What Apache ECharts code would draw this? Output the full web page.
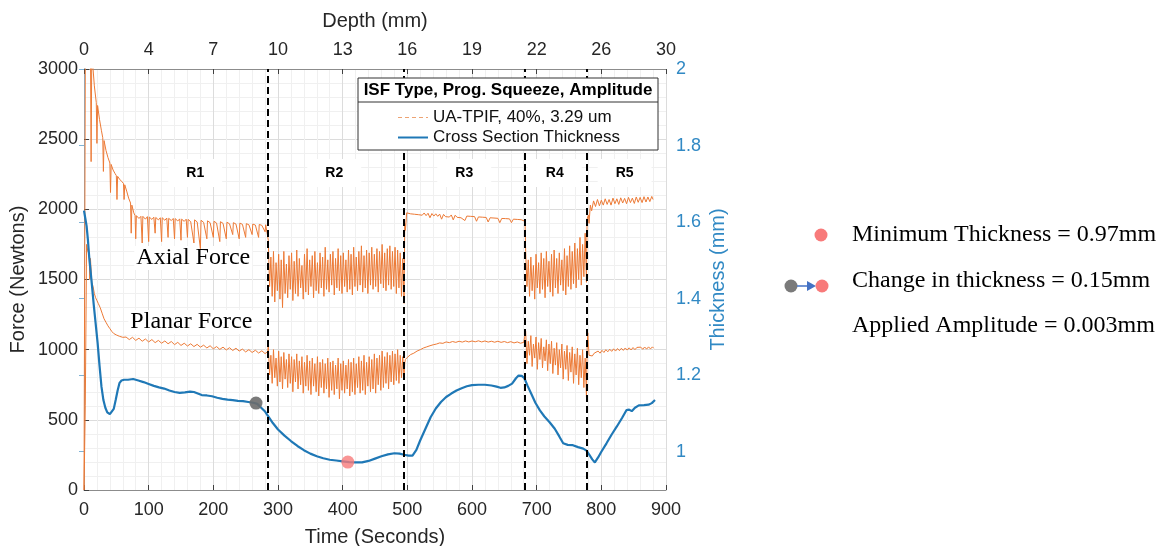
<!DOCTYPE html>
<html>
<head>
<meta charset="utf-8">
<script src="https://cdn.jsdelivr.net/npm/echarts@6/dist/echarts.min.js"></script>
<style>html,body{margin:0;padding:0;background:#fff;}#c{width:1170px;height:546px;}</style>
</head>
<body>
<div id="c"></div>
<script>
// ---------- data ----------
const depthLabels = ['0','4','7','10','13','16','19','22','26','30'];
const regionBounds = [284, 495, 682, 778];
const regionNames = ['R1','R2','R3','R4','R5'];
const regionLabelTimes = [172, 387, 588, 728, 836];
const regionLabelForce = 2259;
const forceLabelNames = ['Axial Force','Planar Force'];
const forceLabelPos = [[169, 1653], [166, 1197]];
const legendTitle = 'ISF Type, Prog. Squeeze, Amplitude';
const forceName = 'UA-TPIF, 40%, 3.29 um';
const thickName = 'Cross Section Thickness';

// Axial force, region 1 (time s, force N)
const axialR1 = [[0,0],[1,1500],[2,3000],[3,3200],[6,3250],[10,3150],[11,2340],[12,3100],[14,3000],[16,2880],[19,2760],[20,2470],[21,2740],[24,2640],[27,2560],[29,2510],[30,2270],[31,2490],[34,2420],[37,2370],[40,2330],[41,2120],[42,2320],[45,2280],[48,2255],[50,2240],[51,2070],[52,2235],[55,2215],[58,2200],[61,2185],[62,2070],[63,2175],[66,2130],[69,2080],[72,2045],[73,1830],[74,2030],[77,1975],[79,1955],
[80,1790],[81,1955],[85,1935],[88,1950],[90,1760],[91,1950],[95,1930],[98,1948],[100,1770],[101,1945],[105,1928],[108,1944],[110,1830],[111,1942],[115,1925],[118,1940],[120,1770],[121,1940],[125,1922],[128,1938],[130,1800],[131,1936],[135,1920],[138,1935],[140,1790],[141,1934],[145,1917],[148,1932],[150,1780],[151,1930],[155,1914],[158,1930],[160,1800],[161,1928],[165,1912],[168,1926],[170,1760],[171,1925],[175,1910],[178,1924],[180,1720],[181,1922],[185,1907],[188,1920],[190,1790],[191,1918],[195,1905],[198,1916],[200,1800],[201,1915],[205,1902],[208,1913],[210,1770],[211,1912],[215,1900],[218,1910],[220,1790],[221,1908],[225,1897],[228,1906],[230,1820],[231,1905],[235,1895],[238,1903],[240,1790],[241,1902],[245,1893],[248,1900],[250,1800],[251,1898],[255,1890],[258,1897],[260,1820],[261,1895],[265,1888],[268,1894],[270,1800],[271,1892],[275,1886],[278,1891],[280,1840],[281,1890],[284,1885]];
// Axial force, region 2 (sampled every 2 s from 285 s)
const axialR2 = [1780,1450,1660,1380,1700,1340,1620,1420,1680,1360,1640,1300,1700,1400,1610,1370,1670,1430,1690,1350,
1630,1400,1710,1380,1650,1440,1600,1360,1680,1410,1720,1390,1640,1450,1670,1370,1700,1420,1620,1400,
1690,1440,1660,1380,1730,1430,1640,1410,1680,1460,1700,1390,1650,1440,1720,1420,1670,1400,1690,1450,
1640,1410,1710,1430,1680,1390,1730,1450,1660,1420,1700,1460,1740,1410,1670,1440,1710,1400,1690,1460,
1730,1430,1680,1450,1720,1410,1700,1470,1750,1440,1690,1420,1720,1460,1740,1430,1700,1450,1730,1400,
1710,1440,1690,1380,1650,1330];
const axialR3 = [[496,1900],[497,1850],[499,1975],[502,1985],[505,1968],[508,1982],[511,1965],[514,1978],[517,1962],[520,1976],[523,1958],[526,1974],[529,1955],[532,1972],[535,1940],[538,1970],[541,1952],[544,1968],[547,1950],[550,1966],[553,1930],[556,1964],[559,1948],[562,1962],[565,1945],[568,1960],[571,1925],[574,1958],[577,1943],[580,1956],[583,1940],[586,1954],[589,1920],[592,1952],[595,1938],[598,1950],[601,1936],[604,1948],[607,1915],[610,1946],[613,1934],[616,1944],[619,1932],[622,1942],[625,1910],[628,1940],[631,1930],[634,1938],[637,1928],[640,1936],[643,1905],[646,1935],[649,1926],[652,1934],[655,1924],[658,1932],[661,1905],[664,1930],[667,1922],[670,1928],[673,1920],[676,1926],[679,1918],[682,1915]];
// Axial force, region 4 (sampled every 2 s from 683 s)
const axialR4 = [1700,1450,1640,1380,1660,1420,1600,1360,1680,1440,1620,1400,1690,1430,1650,1370,1700,1450,1630,1410,
1680,1380,1710,1440,1650,1400,1690,1460,1640,1420,1720,1390,1670,1450,1740,1430,1700,1470,1760,1440,
1720,1500,1800,1460,1750,1520,1830,1480];
const axialR5 = [[778,1930],[780,1960],[781,1900],[783,2030],[785,1990],[788,2060],[791,2020],[794,2070],[797,2025],[800,2065],[803,2030],[806,2075],[809,2035],[812,2070],[815,2030],[818,2080],[821,2040],[824,2075],[827,2035],[830,2082],[833,2045],[836,2078],[839,2040],[842,2085],[845,2048],[848,2080],[851,2042],[854,2088],[857,2050],[860,2085],[863,2048],[866,2090],[869,2052],[872,2088],[875,2055],[878,2092],[880,2070]];

// Planar force
const planarR1 = [[0,0],[2,600],[4,1750],[6,1700],[8,1680],[9,1500],[10,1650],[12,1480],[14,1450],[16,1400],[18,1370],[20,1350],[22,1330],[25,1300],[28,1260],[31,1220],[34,1195],[37,1170],[40,1150],[43,1130],[46,1115],[50,1105],[55,1095],[60,1088],
[65,1090],[70,1072],[75,1088],[80,1066],[85,1082],[90,1060],[95,1076],[100,1055],[105,1072],[110,1050],[115,1066],[120,1046],[125,1062],[130,1042],[135,1058],[140,1036],[145,1052],[150,1030],[155,1046],[160,1026],[165,1042],[170,1022],[175,1038],[180,1018],[185,1032],[190,1012],[195,1028],[200,1006],[205,1022],[210,1002],[215,1018],[220,998],[225,1014],[230,994],[235,1010],[240,990],[245,1004],[250,984],[255,1000],[260,980],[265,996],[270,976],[275,992],[280,972],[284,985]];
const planarR2 = [1030,820,960,760,1000,800,940,740,990,770,950,720,980,790,930,730,970,760,950,700,
930,770,970,720,920,750,950,690,910,740,960,710,920,680,940,740,900,700,950,670,
910,730,930,690,900,720,940,660,910,710,920,680,890,720,940,650,900,710,920,690,
890,720,930,670,910,700,940,680,900,730,950,690,920,710,960,680,910,740,950,700,
930,720,970,690,940,750,960,710,990,730,950,760,980,720,960,770,990,750,970,780,
1000,760,960,800,950,790];
const planarR3 = [[496,905],[497,930],[500,945],[505,965],[510,975],[515,990],[520,1000],[525,1012],[530,1020],[535,1028],[540,1035],[545,1040],[550,1048],[555,1045],[560,1055],[565,1050],[570,1058],[575,1052],[580,1060],[585,1054],[590,1062],[595,1055],[600,1062],[605,1056],[610,1063],[615,1055],[620,1062],[625,1054],[630,1060],[635,1053],[640,1060],[645,1052],[650,1058],[655,1050],[660,1057],[665,1048],[670,1055],[675,1046],[680,1052]];
const planarR4 = [1130,900,1060,960,1100,880,1040,940,1090,860,1050,930,1080,870,1020,920,1070,850,1040,900,
1060,830,1010,890,1050,820,1000,870,1040,790,990,860,1030,780,980,840,1020,760,970,820,
1010,750,960,800,1000,730,940,660];
const planarR5 = [[778,1000],[779,1120],[781,960],[783,965],[786,955],[789,975],[792,968],[795,990],[798,975],[801,995],[804,980],[807,1000],[810,985],[813,1003],[816,988],[819,1006],[822,990],[825,1008],[828,993],[831,1010],[834,995],[837,1012],[840,997],[843,1013],[846,998],[849,1015],[852,1000],[855,1016],[858,1002],[861,1018],[864,1003],[867,1019],[870,1004],[873,1020],[876,1005],[879,1020],[881,1010]];

// Thickness (time s, mm)
const thickness = [[0,1.63],[2,1.61],[4,1.59],[6,1.555],[8,1.51],[10,1.475],[12,1.44],[15,1.385],[18,1.335],[21,1.285],[24,1.225],[27,1.17],[30,1.135],[33,1.115],[36,1.103],[40,1.098],[43,1.100],[46,1.112],[49,1.135],[52,1.160],[55,1.180],[58,1.186],[62,1.188],[68,1.188],[76,1.190],[84,1.186],[92,1.182],[100,1.177],[108,1.172],[116,1.168],[124,1.165],[132,1.160],[140,1.156],[148,1.154],[156,1.155],[164,1.157],[170,1.156],[176,1.152],[182,1.148],[190,1.147],[198,1.145],[206,1.141],[214,1.138],[222,1.136],[230,1.135],[238,1.133],[246,1.132],[254,1.130],[262,1.128],[268,1.125],[274,1.115],[280,1.105],[286,1.09],[292,1.075],[300,1.058],[310,1.042],[320,1.028],[330,1.015],[340,1.004],[350,0.995],[360,0.988],[370,0.983],[380,0.979],[390,0.977],[400,0.975],[410,0.973],[420,0.972],[430,0.972],[440,0.976],[450,0.982],[460,0.988],[470,0.993],[480,0.996],[488,0.995],[495,0.992],[502,0.990],[508,0.990],[514,1.005],[520,1.030],[528,1.060],[536,1.090],[544,1.113],[552,1.130],[560,1.143],[568,1.152],[576,1.160],[584,1.166],[592,1.171],[600,1.174],[610,1.175],[620,1.175],[630,1.173],[638,1.170],[644,1.167],[650,1.168],[656,1.172],[662,1.178],[668,1.192],[672,1.199],[677,1.198],[681,1.192],[686,1.172],[692,1.150],[698,1.128],[705,1.108],[712,1.092],[720,1.077],[728,1.060],[735,1.040],[741,1.022],[748,1.018],[756,1.017],[764,1.012],[772,1.008],[777,1.003],[781,0.993],[786,0.980],[790,0.972],[795,0.985],[800,1.000],[808,1.022],[816,1.045],[824,1.066],[832,1.088],[839,1.109],[843,1.110],[847,1.106],[852,1.115],[858,1.121],[866,1.122],[873,1.123],[878,1.127],[883,1.135]];
const startPoint = [[266, 1.127]];
const minPoint = [[408, 0.973]];
const rightTicks = [1, 1.2, 1.4, 1.6, 1.8, 2];

// ---------- build ----------
function sampled(t0, step, vals) { return vals.map((v, i) => [t0 + i * step, v]); }
const axial = [].concat(axialR1, sampled(285, 2, axialR2), axialR3, sampled(683, 2, axialR4), axialR5);
const planar = [].concat(planarR1, sampled(285, 2, planarR2), planarR3, sampled(683, 2, planarR4), planarR5);

const SANS = "'Liberation Sans', Arial, Helvetica, sans-serif";
const SERIF = "'Liberation Serif', 'Times New Roman', serif";
const TXT = '#262626';
const ORANGE = '#ec7a36';
const BLUE = '#1f78b6';
const RBLUE = '#3189c4';

const chart = echarts.init(document.getElementById('c'), null, {renderer: 'canvas'});
const baseX = {
  type: 'value', min: 0, max: 900, interval: 100,
  nameLocation: 'middle',
  nameTextStyle: {fontSize: 20, color: TXT, fontFamily: SANS},
  axisLine: {show: true, lineStyle: {color: '#8c8c8c', width: 1}},
  axisTick: {show: true, inside: true, length: 5, lineStyle: {color: '#404040'}},
  axisLabel: {fontSize: 18, color: TXT, fontFamily: SANS}
};
chart.setOption({
  animation: false,
  backgroundColor: '#fff',
  grid: {left: 84, right: 504, top: 69, bottom: 56, containLabel: false, outerBoundsMode: 'none'},
  xAxis: [
    Object.assign({}, baseX, {
      position: 'bottom', name: 'Time (Seconds)', nameGap: 37,
      axisLabel: Object.assign({}, baseX.axisLabel, {margin: 11, formatter: v => String(v)}),
      splitLine: {show: true, lineStyle: {color: '#dcdcdc'}},
      minorTick: {show: false, splitNumber: 5},
      minorSplitLine: {show: true, lineStyle: {color: '#f0f0f0'}}
    }),
    Object.assign({}, baseX, {
      position: 'top', name: 'Depth (mm)', nameGap: 38,
      axisLabel: Object.assign({}, baseX.axisLabel, {margin: 10,
        formatter: v => depthLabels[Math.round(v / 100)]}),
      splitLine: {show: false}
    })
  ],
  yAxis: [
    {
      type: 'value', min: 0, max: 3000, interval: 500, position: 'left',
      name: 'Force (Newtons)', nameLocation: 'middle', nameGap: 56,
      nameTextStyle: {fontSize: 20, color: TXT, fontFamily: SANS},
      axisLine: {show: true, lineStyle: {color: '#8c8c8c'}},
      axisTick: {show: true, inside: true, length: 5, lineStyle: {color: '#404040'}},
      axisLabel: {fontSize: 18, color: TXT, fontFamily: SANS, margin: 6, formatter: v => String(v)},
      splitLine: {show: true, lineStyle: {color: '#dcdcdc'}},
      minorTick: {show: false, splitNumber: 5},
      minorSplitLine: {show: true, lineStyle: {color: '#f0f0f0'}}
    },
    {
      type: 'value', min: 0.9, max: 2, position: 'right',
      name: 'Thickness (mm)', nameLocation: 'middle', nameGap: 42,
      nameTextStyle: {fontSize: 20, color: RBLUE, fontFamily: SANS},
      axisLine: {show: true, lineStyle: {color: '#7fb3d6'}},
      axisTick: {show: true, inside: true, length: 5, customValues: rightTicks, lineStyle: {color: '#7fb3d6'}},
      axisLabel: {fontSize: 18, color: RBLUE, fontFamily: SANS, margin: 10, customValues: rightTicks},
      splitLine: {show: false}
    }
  ],
  legend: {
    data: [
      {name: forceName, itemStyle: {opacity: 0}, lineStyle: {type: [4, 3], color: '#eda373', width: 1}},
      {name: thickName, itemStyle: {opacity: 0}, lineStyle: {width: 2}}
    ],
    orient: 'vertical', left: 397, top: 109, padding: 0,
    itemWidth: 30, itemHeight: 14, itemGap: 3,
    selectedMode: false, z: 110,
    textStyle: {fontSize: 17, color: '#111', fontFamily: SANS, lineHeight: 17}
  },
  graphic: [
    {type: 'rect', z: 100, shape: {x: 358, y: 78, width: 300, height: 72},
     style: {fill: '#fff', stroke: '#333', lineWidth: 1}},
    {type: 'line', z: 101, shape: {x1: 358, y1: 102, x2: 658, y2: 102},
     style: {stroke: '#333', lineWidth: 1}},
    {type: 'text', z: 101, x: 508, y: 90,
     style: {text: legendTitle, fill: '#000', font: 'bold 17px ' + SANS, align: 'center', verticalAlign: 'middle'}},
    // side annotations
    {type: 'circle', shape: {cx: 821, cy: 235, r: 6.5}, style: {fill: '#f87a7a'}},
    {type: 'text', x: 852, y: 235, style: {text: 'Minimum Thickness = 0.97mm', fill: '#000', font: '24px ' + SERIF, verticalAlign: 'middle'}},
    {type: 'circle', shape: {cx: 791, cy: 286, r: 6.5}, style: {fill: '#7a7a7a'}},
    {type: 'line', shape: {x1: 797, y1: 286, x2: 809, y2: 286}, style: {stroke: '#4472c4', lineWidth: 1.5}},
    {type: 'polygon', shape: {points: [[807, 281], [816, 286], [807, 291]]}, style: {fill: '#4472c4'}},
    {type: 'circle', shape: {cx: 822, cy: 286, r: 6.5}, style: {fill: '#f87a7a'}},
    {type: 'text', x: 852, y: 281, style: {text: 'Change in thickness = 0.15mm', fill: '#000', font: '24px ' + SERIF, verticalAlign: 'middle'}},
    {type: 'text', x: 852, y: 326, style: {text: 'Applied Amplitude = 0.003mm', fill: '#000', font: '24px ' + SERIF, verticalAlign: 'middle'}}
  ],
  series: [
    {
      name: 'labels', type: 'scatter', xAxisIndex: 0, yAxisIndex: 0, z: 1, silent: true,
      symbolSize: 1, itemStyle: {color: 'rgba(255,255,255,0)'},
      data: regionNames.map((n, i) => ({name: n, value: [regionLabelTimes[i], regionLabelForce]})),
      label: {show: true, position: 'inside', formatter: '{b}', fontSize: 14, fontWeight: 'bold',
        color: '#000', opacity: 1, fontFamily: SANS, backgroundColor: '#fff', padding: [7, 18]}
    },
    {
      name: 'forceLabels', type: 'scatter', xAxisIndex: 0, yAxisIndex: 0, z: 1, silent: true,
      symbolSize: 1, itemStyle: {color: 'rgba(255,255,255,0)'},
      data: forceLabelNames.map((n, i) => ({name: n, value: forceLabelPos[i]})),
      label: {show: true, position: 'inside', formatter: '{b}', fontSize: 24,
        color: '#000', opacity: 1, fontFamily: SERIF, backgroundColor: '#fff', padding: [0, 2]}
    },
    {
      name: forceName, type: 'line', xAxisIndex: 0, yAxisIndex: 0, data: axial,
      showSymbol: false, symbol: 'none', z: 3,
      lineStyle: {color: ORANGE, width: 1}, itemStyle: {color: ORANGE}
    },
    {
      name: forceName, type: 'line', xAxisIndex: 0, yAxisIndex: 0, data: planar,
      showSymbol: false, symbol: 'none', z: 3,
      lineStyle: {color: ORANGE, width: 1}, itemStyle: {color: ORANGE},
      markLine: {
        silent: true, symbol: ['none', 'none'], label: {show: false},
        lineStyle: {color: '#000', type: [7, 4], width: 2},
        data: regionBounds.map(b => ({xAxis: b}))
      }
    },
    {
      name: thickName, type: 'line', xAxisIndex: 0, yAxisIndex: 1, data: thickness,
      showSymbol: false, symbol: 'none', smooth: false, z: 4,
      lineStyle: {color: BLUE, width: 2.2}, itemStyle: {color: BLUE}
    },
    {
      name: 'start', type: 'scatter', xAxisIndex: 0, yAxisIndex: 1, data: startPoint, z: 6,
      symbolSize: 13, itemStyle: {color: '#6b6b6b', opacity: 0.9}
    },
    {
      name: 'min', type: 'scatter', xAxisIndex: 0, yAxisIndex: 1, data: minPoint, z: 6,
      symbolSize: 13, itemStyle: {color: '#f87a7a'}
    }
  ]
});
</script>
</body>
</html>
